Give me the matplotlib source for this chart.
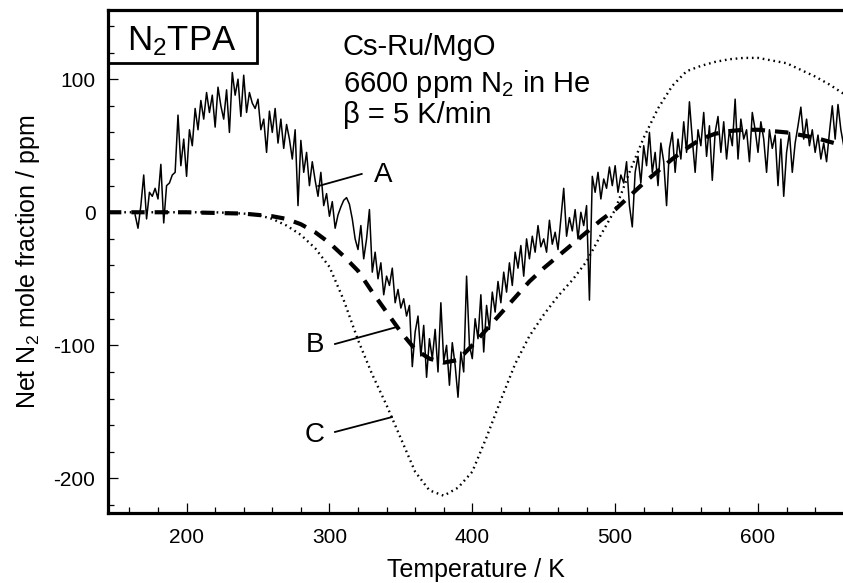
import matplotlib
matplotlib.use("Agg")
import matplotlib.pyplot as plt
from matplotlib.patches import Rectangle
from matplotlib.ticker import MultipleLocator

plt.rcParams['font.family'] = ['Liberation Sans', 'DejaVu Sans']
plt.rcParams['mathtext.fontset'] = 'custom'
plt.rcParams['mathtext.rm'] = 'Liberation Sans'
plt.rcParams['mathtext.it'] = 'Liberation Sans:italic'
plt.rcParams['mathtext.bf'] = 'Liberation Sans:bold'

# ---- Curve A: measured signal (noisy) ----
temp_a = [
    164, 166, 168, 170, 172, 174, 176, 178, 180, 182,
    184, 186, 188, 190, 192, 194, 196, 198, 200, 202,
    204, 206, 208, 210, 212, 214, 216, 218, 220, 222,
    224, 226, 228, 230, 232, 234, 236, 238, 240, 242,
    244, 246, 248, 250, 252, 254, 256, 258, 260, 262,
    264, 266, 268, 270, 272, 274, 276, 278, 280, 282,
    284, 286, 288, 290, 292, 294, 296, 298, 300, 302,
    304, 306, 308, 310, 312, 314, 316, 318, 320, 322,
    324, 326, 328, 330, 332, 334, 336, 338, 340, 342,
    344, 346, 348, 350, 352, 354, 356, 358, 360, 362,
    364, 366, 368, 370, 372, 374, 376, 378, 380, 382,
    384, 386, 388, 390, 392, 394, 396, 398, 400, 402,
    404, 406, 408, 410, 412, 414, 416, 418, 420, 422,
    424, 426, 428, 430, 432, 434, 436, 438, 440, 442,
    444, 446, 448, 450, 452, 454, 456, 458, 460, 462,
    464, 466, 468, 470, 472, 474, 476, 478, 480, 482,
    484, 486, 488, 490, 492, 494, 496, 498, 500, 502,
    504, 506, 508, 510, 512, 514, 516, 518, 520, 522,
    524, 526, 528, 530, 532, 534, 536, 538, 540, 542,
    544, 546, 548, 550, 552, 554, 556, 558, 560, 562,
    564, 566, 568, 570, 572, 574, 576, 578, 580, 582,
    584, 586, 588, 590, 592, 594, 596, 598, 600, 602,
    604, 606, 608, 610, 612, 614, 616, 618, 620, 622,
    624, 626, 628, 630, 632, 634, 636, 638, 640, 642,
    644, 646, 648, 650, 652, 654, 656, 658, 660,
]
frac_a = [
    -2, -12, 5, 28, -5, 15, 12, 18, 10, 36,
    -8, 20, 22, 28, 30, 73, 35, 55, 27, 62,
    50, 78, 62, 84, 70, 90, 75, 88, 64, 94,
    80, 70, 92, 60, 105, 88, 100, 72, 103, 75,
    90, 82, 78, 85, 62, 70, 45, 76, 60, 78,
    52, 70, 48, 66, 55, 40, 62, 5, 54, 30,
    45, 20, 38, 24, 12, 30, 5, 14, -3, 8,
    -12, -2, 4, 9, 11, 6, -5, -20, -28, -10,
    -35, -20, 2, -45, -30, -50, -38, -62, -48, -55,
    -42, -68, -58, -72, -65, -78, -70, -116, -90, -78,
    -108, -85, -124, -95, -110, -88, -120, -68, -112, -100,
    -130, -98, -115, -139, -105, -120, -48, -100, -110, -80,
    -95, -62, -105, -70, -88, -60, -75, -52, -68, -45,
    -60, -38, -55, -30, -42, -25, -48, -20, -35, -18,
    -30, -10, -26, -20, -30, -6, -24, -15, -28, -5,
    18, -18, -4, -14, 2, -20, 0, -10, 5, -66,
    27, 15, 30, 10, 25, 18, 34, 20, 35, 15,
    28, 22, 38, 5, -11, 30, 42, 22, 50, 35,
    60, 30, 45, 20, 52, 38, 5, 48, 60, 30,
    55, 40, 68, 45, 83, 55, 30, 62, 50, 75,
    42, 65, 24, 60, 72, 45, 68, 40, 62, 50,
    85, 40, 70, 55, 62, 38, 75, 62, 45, 68,
    55, 30, 62, 48, 58, 20, 55, 12, 45, 60,
    30, 52, 65, 79, 55, 70, 50, 62, 45, 58,
    40, 52, 38, 60, 80, 55, 81, 62, 50,
]

# ---- Curve B: model fit (dashed) ----
temp_b = [145, 200, 240, 260, 270, 280, 290, 300, 310, 320,
          330, 340, 350, 360, 370, 380, 390, 400, 410, 420,
          430, 440, 450, 460, 470, 480, 490, 500, 510, 520,
          530, 540, 550, 560, 570, 580, 590, 600, 610, 620,
          630, 640, 650, 660]
frac_b = [0, 0, -1, -3, -5, -9, -15, -23, -33, -44,
          -60, -75, -90, -103, -110, -113, -111, -100, -88, -76,
          -64, -52, -42, -33, -24, -15, -6, 2, 12, 22,
          31, 40, 48, 55, 59, 61, 62, 62, 61, 60,
          58, 56, 53, 50]

# ---- Curve C: model (dotted) ----
temp_c = [145, 220, 240, 250, 260, 270, 280, 290, 300, 310,
          320, 330, 340, 350, 360, 370, 380, 390, 400,
          410, 420, 430, 440, 450, 460, 470, 480, 490, 500,
          510, 520, 530, 540, 550, 560, 570, 580, 590, 600,
          610, 620, 630, 640, 650, 660]
frac_c = [0, 0, -1, -2, -5, -10, -17, -27, -41, -66,
          -96, -122, -145, -170, -195, -209, -213, -207, -195,
          -169, -141, -114, -93, -77, -63, -51, -37, -17, 2,
          30, 56, 78, 95, 106, 110, 113, 115, 116, 116,
          114, 112, 107, 102, 96, 89]

x_ticks = [200, 300, 400, 500, 600]
y_ticks = [-200, -100, 0, 100]

fig = plt.figure(figsize=(8.43, 5.83), dpi=100)
ax = fig.add_axes([108 / 843, 70 / 583, 735 / 843, 503 / 583])

ax.plot(temp_c, frac_c, color='black', lw=1.7, linestyle=(0, (0.7, 1.6)))
ax.plot(temp_b, frac_b, color='black', lw=3.0, linestyle=(0, (3.2, 2.4)), dash_capstyle='butt')
ax.plot(temp_a, frac_a, color='black', lw=1.1)

ax.set_xlim(145, 659.5)
ax.set_ylim(-226, 152)
ax.set_xticks(x_ticks)
ax.set_yticks(y_ticks)
ax.set_yticklabels([str(v) for v in y_ticks])
ax.xaxis.set_minor_locator(MultipleLocator(20))
ax.yaxis.set_minor_locator(MultipleLocator(20))
ax.tick_params(which='both', direction='in', top=False, right=False, width=0.9)
ax.tick_params(which='major', length=7.5, labelsize=15)
ax.tick_params(axis='x', which='major', pad=11)
ax.tick_params(axis='y', which='major', pad=9)
ax.tick_params(which='minor', length=4)

for side in ['left', 'bottom', 'top']:
    ax.spines[side].set_linewidth(2.3)
ax.spines['right'].set_visible(False)

ax.set_xlabel('Temperature / K', fontsize=18, labelpad=8)
ax.set_ylabel('Net N$_2$ mole fraction / ppm', fontsize=18, labelpad=8)

# Title box
ax.add_patch(Rectangle((0, 0.8946), 0.2027, 0.1054, transform=ax.transAxes,
                       fill=False, edgecolor='black', lw=2.0, clip_on=False, zorder=5))
ax.text(0.1007, 0.9205, 'N$_2$TPA', transform=ax.transAxes, fontsize=25,
        ha='center', va='baseline')

# Condition text
ax.text(0.3197, 0.9105, 'Cs-Ru/MgO', transform=ax.transAxes, fontsize=21, va='baseline')
ax.text(0.3197, 0.837, '6600 ppm N$_2$ in He', transform=ax.transAxes, fontsize=21, va='baseline')
ax.text(0.3197, 0.7753, 'β = 5 K/min', transform=ax.transAxes, fontsize=21, va='baseline')

# Curve labels with pointer lines
ax.plot([292.2, 322.6], [19.7, 28.8], color='black', lw=1.3)
ax.text(337.5, 28, 'A', fontsize=20, ha='center', va='center')
ax.plot([303.9, 347.3], [-99, -86.2], color='black', lw=1.3)
ax.text(289.9, -99.7, 'B', fontsize=20, ha='center', va='center')
ax.plot([303.9, 343.8], [-165.1, -153.9], color='black', lw=1.3)
ax.text(289.9, -167.4, 'C', fontsize=20, ha='center', va='center')

fig.savefig('out.png', dpi=100)
